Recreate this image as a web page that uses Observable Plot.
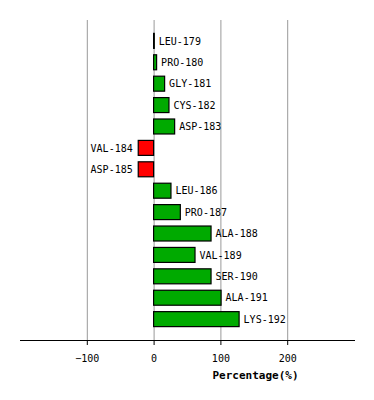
<!DOCTYPE html>
<html>
<head>
<meta charset="utf-8">
<script src="https://cdn.jsdelivr.net/npm/d3@7"></script>
<script src="https://cdn.jsdelivr.net/npm/@observablehq/plot@0.6"></script>
<style>
  html, body { margin: 0; padding: 0; background: #fff; }
</style>
</head>
<body>
<div id="chart"></div>
<script>
const residues = ["LEU-179","PRO-180","GLY-181","CYS-182","ASP-183","VAL-184","ASP-185","LEU-186","PRO-187","ALA-188","VAL-189","SER-190","ALA-191","LYS-192"];
const percentages = [1, 4.5, 16.5, 23, 31.5, -23, -23, 26, 40, 86, 62, 86, 101, 128];
const xTicks = [-100, 0, 100, 200];
const axisLabel = "Percentage(%)";

const data = residues.map((r, i) => ({residue: r, value: percentages[i]}));
const font = "DejaVu Sans Mono, monospace";

const chart = Plot.plot({
  width: 374,
  height: 400,
  marginLeft: 20,
  marginRight: 20,
  marginTop: 20,
  marginBottom: 60,
  style: {fontFamily: font, fontSize: "10px", background: "#fff", color: "#000"},
  x: {domain: [-200, 300]},
  y: {domain: residues, axis: null, paddingInner: 0.3, paddingOuter: 0.625, round: false},
  marks: [
    Plot.ruleX(xTicks, {x: d => d, stroke: "#999", strokeWidth: 1, strokeOpacity: 1}),
    Plot.barX(data, {
      y: "residue", x1: 0, x2: "value",
      fill: d => d.value < 0 ? "#ff0000" : "#00aa00",
      stroke: "#000", strokeWidth: 1.2
    }),
    Plot.text(data.filter(d => d.value >= 0), {
      y: "residue", x: "value", text: "residue",
      textAnchor: "start", dx: 4, fill: "#000", fontSize: 10
    }),
    Plot.text(data.filter(d => d.value < 0), {
      y: "residue", x: "value", text: "residue",
      textAnchor: "end", dx: -6, fill: "#000", fontSize: 10
    }),
    Plot.frame({anchor: "bottom", stroke: "#000", strokeWidth: 1}),
    Plot.axisX({ticks: xTicks, tickSize: 5, tickPadding: 9, label: null, fontSize: 10}),
    Plot.text([axisLabel], {
      frameAnchor: "bottom-right", text: d => d, dx: -56, dy: 38,
      textAnchor: "end", fontWeight: "bold", fontSize: 11, fill: "#000"
    })
  ]
});
document.getElementById("chart").appendChild(chart);
</script>
</body>
</html>
